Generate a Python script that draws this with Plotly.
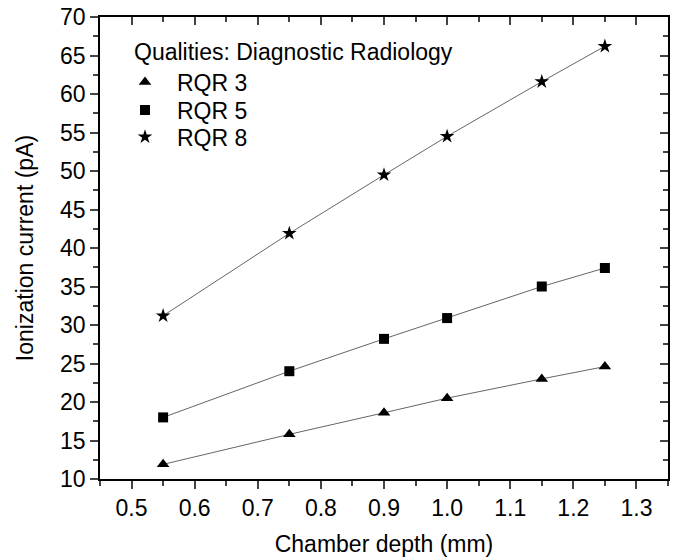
import plotly.graph_objects as go

depth = [0.55, 0.75, 0.9, 1.0, 1.15, 1.25]
rqr3 = [11.9, 15.8, 18.6, 20.5, 23.0, 24.6]
rqr5 = [18.0, 24.0, 28.2, 30.9, 35.0, 37.4]
rqr8 = [31.2, 41.9, 49.5, 54.5, 61.6, 66.2]
legend_title = "Qualities: Diagnostic Radiology"

series = [
    ("RQR 3", rqr3, "triangle-up", 11, "legend", 0.906),
    ("RQR 5", rqr5, "square", 10, "legend2", 0.845),
    ("RQR 8", rqr8, "star", 11, "legend3", 0.787),
]

FONT = "Liberation Sans, Arial, sans-serif"
fig = go.Figure()
for name, vals, sym, sz, lg, ly in series:
    fig.add_trace(go.Scatter(x=depth, y=vals, mode="lines", line=dict(color="#666", width=1),
                             showlegend=False, hoverinfo="skip"))
for name, vals, sym, sz, lg, ly in series:
    fig.add_trace(go.Scatter(x=depth, y=vals, mode="markers", name=name, legend=lg,
                             marker=dict(symbol=sym, size=sz, color="black")))
# invisible trace for mirrored inside-tick axes
fig.add_trace(go.Scatter(x=[depth[0]], y=[rqr3[0]], xaxis="x2", yaxis="y2", mode="markers",
                         marker=dict(opacity=0), showlegend=False, hoverinfo="skip"))

axcommon = dict(showgrid=False, zeroline=False, showline=True, linecolor="black", linewidth=1.5,
                automargin=False, tickfont=dict(family=FONT, size=23, color="black"))
legcommon = dict(x=0.0229, xanchor="left", yanchor="top", bgcolor="rgba(0,0,0,0)",
                 font=dict(family=FONT, size=23), itemwidth=54)
layout_legends = {}
for name, vals, sym, sz, lg, ly in series:
    layout_legends[lg] = dict(y=ly, **legcommon)

fig.update_layout(
    width=678, height=560,
    margin=dict(l=100, r=10, t=17, b=81),
    paper_bgcolor="white", plot_bgcolor="white",
    font=dict(family=FONT, color="black"),
    xaxis=dict(range=[0.45, 1.35], dtick=0.1, tick0=0.5, tickformat=".1f",
               ticks="outside", ticklen=8, tickwidth=1.5,
               minor=dict(ticks="outside", ticklen=5, dtick=0.05, tick0=0.45, tickwidth=1.5),
               title=dict(text="Chamber depth (mm)", font=dict(family=FONT, size=23), standoff=16),
               **axcommon),
    yaxis=dict(range=[10, 70], dtick=5, tick0=10,
               ticks="outside", ticklen=8, tickwidth=1.5,
               minor=dict(ticks="outside", ticklen=5, dtick=2.5, tick0=10, tickwidth=1.5),
               title=dict(text="Ionization current (pA)", font=dict(family=FONT, size=23), standoff=20),
               **axcommon),
    xaxis2=dict(overlaying="x", side="top", matches="x", range=[0.45, 1.35], dtick=0.1, tick0=0.5,
                ticks="inside", ticklen=8, tickwidth=1.5, showticklabels=False,
                minor=dict(ticks="inside", ticklen=5, dtick=0.05, tick0=0.45, tickwidth=1.5),
                **axcommon),
    yaxis2=dict(overlaying="y", side="right", matches="y", range=[10, 70], dtick=5, tick0=10,
                ticks="inside", ticklen=8, tickwidth=1.5, showticklabels=False,
                minor=dict(ticks="inside", ticklen=5, dtick=2.5, tick0=10, tickwidth=1.5),
                **axcommon),
    annotations=[dict(text=legend_title, xref="paper", yref="paper", x=0.0563, y=0.924,
                      xanchor="left", yanchor="middle", showarrow=False,
                      font=dict(family=FONT, size=23, color="black"))],
    **layout_legends,
)
fig.write_html("out.html", config={"displayModeBar": False},
               post_script="document.body.style.margin='0';")
